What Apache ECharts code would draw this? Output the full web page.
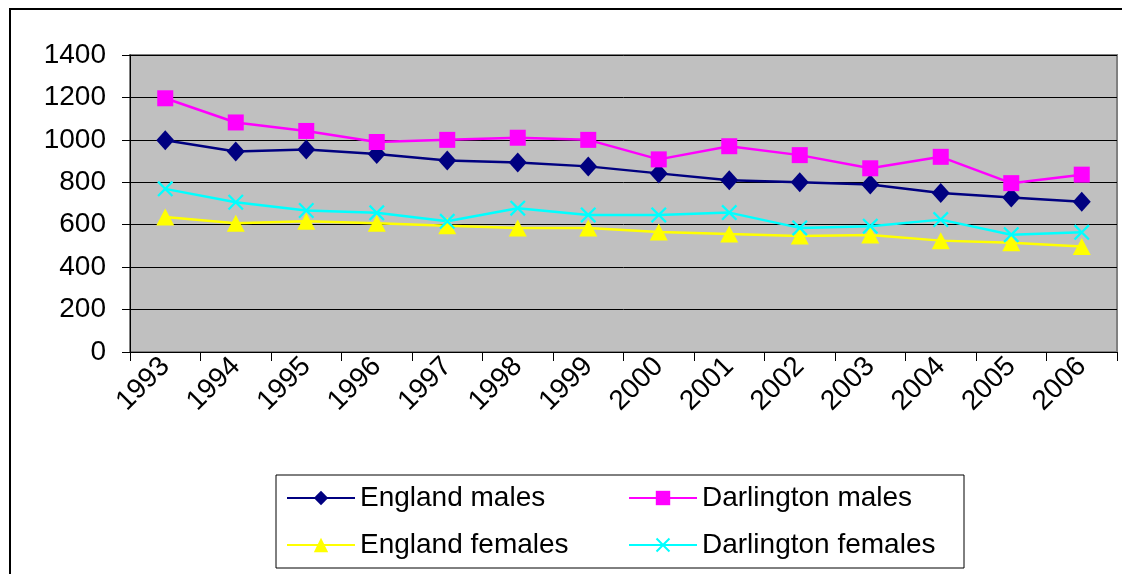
<!DOCTYPE html>
<html><head><meta charset="utf-8">
<script src="https://cdn.jsdelivr.net/npm/echarts@6/dist/echarts.min.js"></script>
<style>html,body{margin:0;padding:0;background:#fff}#c{width:1122px;height:574px}</style>
</head><body><div id="c"></div>
<script>
const years = ['1993','1994','1995','1996','1997','1998','1999','2000','2001','2002','2003','2004','2005','2006'];
const englandMales = [998, 945, 955, 933, 903, 893, 875, 842, 810, 800, 790, 749, 728, 708];
const darlingtonMales = [1196, 1082, 1042, 990, 1000, 1010, 1000, 908, 970, 928, 866, 920, 796, 836];
const englandFemales = [636, 607, 616, 607, 595, 585, 585, 566, 556, 547, 552, 525, 515, 497];
const darlingtonFemales = [769, 706, 667, 656, 616, 678, 646, 646, 657, 585, 593, 624, 553, 564];
const yTicks = [0, 200, 400, 600, 800, 1000, 1200, 1400];

const xSym = 'path://M0,0.1L0.1,0L0.5,0.4L0.9,0L1,0.1L0.6,0.5L1,0.9L0.9,1L0.5,0.6L0.1,1L0,0.9L0.4,0.5Z';
const font = 'Arial, "Liberation Sans", sans-serif';

function mk(name, data, color, symbol, size) {
  return {
    name, type: 'line', data, symbol, symbolSize: size,
    lineStyle: {color, width: 2.5},
    itemStyle: {color, borderColor: color, borderWidth: 0},
    animation: false
  };
}
function leg(name, left, top) {
  return {
    data: [name], left, top, itemWidth: 68, itemHeight: 18, itemGap: 0,
    textStyle: {fontFamily: font, fontSize: 28, color: '#000', padding: [0,0,0,0]},
    padding: 0, selectedMode: false
  };
}
const chart = echarts.init(document.getElementById('c'));
chart.setOption({
  backgroundColor: '#fff',
  animation: false,
  graphic: [
    {type: 'rect', shape: {x: 10, y: 9, width: 1200, height: 700}, style: {fill: null, stroke: '#000', lineWidth: 2}, z: -1},
    {type: 'rect', shape: {x: 276, y: 475, width: 688, height: 93}, style: {fill: '#fff', stroke: '#000', lineWidth: 1}, z: 0}
  ],
  grid: {left: 130, right: 5, top: 55, bottom: 222, show: true, backgroundColor: '#C0C0C0', borderColor: '#808080', borderWidth: 2},
  legend: [
    leg('England males', 286, 484),
    leg('Darlington males', 628, 484),
    leg('England females', 286, 531),
    leg('Darlington females', 628, 531)
  ],
  xAxis: {
    type: 'category', data: years, boundaryGap: true,
    axisLine: {lineStyle: {color: '#000', width: 1}},
    axisTick: {show: true, length: 9, lineStyle: {color: '#000'}},
    axisLabel: {rotate: 45, fontFamily: font, fontSize: 28, color: '#000', margin: 10}
  },
  yAxis: {
    type: 'value', min: 0, max: 1400, interval: 200,
    axisLine: {show: true, lineStyle: {color: '#000', width: 1}},
    axisTick: {show: true, length: 8, lineStyle: {color: '#000'}},
    axisLabel: {fontFamily: font, fontSize: 28, color: '#000', margin: 24,
      formatter: v => yTicks.includes(v) ? String(v) : ''},
    splitLine: {lineStyle: {color: '#000', width: 1}}
  },
  series: [
    mk('England males', englandMales, '#000080', 'diamond', [18, 20]),
    mk('Darlington males', darlingtonMales, '#FF00FF', 'rect', 16),
    mk('England females', englandFemales, '#FFFF00', 'triangle', [18, 17]),
    mk('Darlington females', darlingtonFemales, '#00FFFF', xSym, 16)
  ]
});
</script></body></html>
